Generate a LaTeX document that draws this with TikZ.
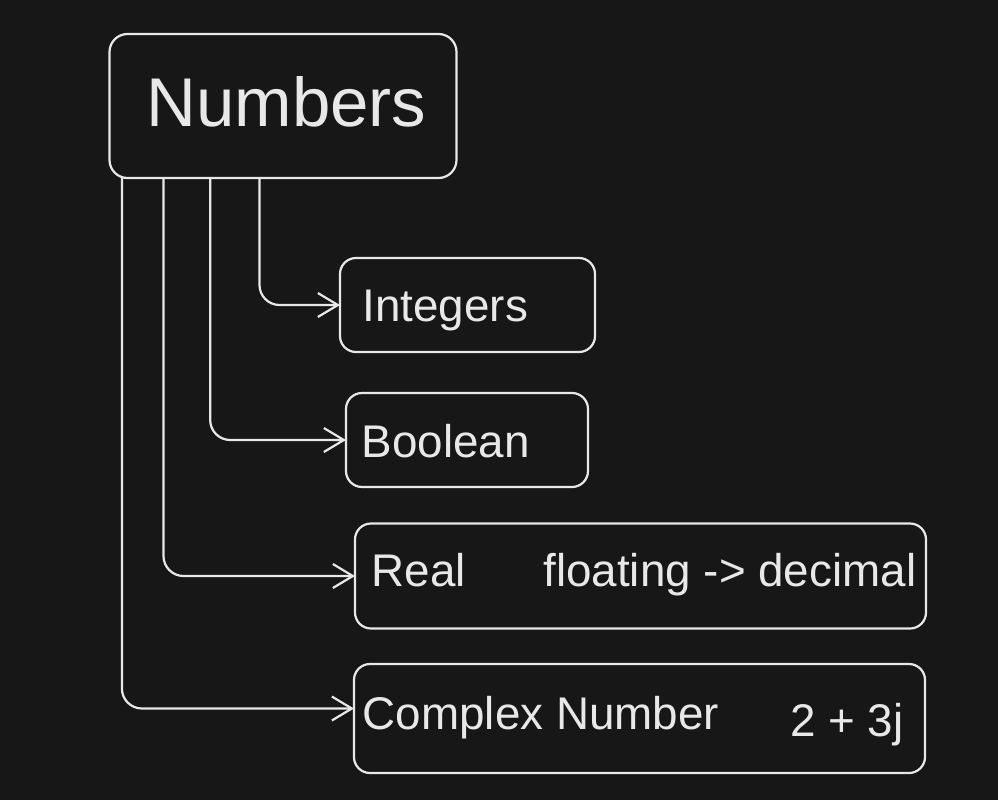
\documentclass[tikz,border=0pt]{standalone}
\usepackage{fontspec}
\setmainfont{Liberation Sans}
\usetikzlibrary{arrows.meta}
\definecolor{bg}{RGB}{23,23,23}
\definecolor{ink}{RGB}{232,232,232}
\begin{document}
\begin{tikzpicture}[x=1pt, y=-1pt,
  box/.style={draw=ink, fill=bg, line width=2.2pt, rounded corners=16pt,
    inner sep=0pt, outer sep=0pt, rectangle},
  label/.style={anchor=base west, inner sep=0pt, outer sep=0pt, text=ink,
    font=\fontsize{45.8}{54}\selectfont},
  conn/.style={draw=ink, line width=2.2pt, line cap=round, line join=round,
    rounded corners=20pt,
    -{Straight Barb[length=20pt, width=24pt, line width=2.2pt]}}
]
  % canvas
  \fill[bg] (0,0) rectangle (998,800);
  \useasboundingbox (0,0) rectangle (998,800);

  % boxes
  \node[box, rounded corners=18pt, minimum width=347pt, minimum height=144pt] (num) at (283,106) {};
  \node[box, minimum width=255pt, minimum height=94pt] (int) at (467.5,305) {};
  \node[box, minimum width=242pt, minimum height=94pt] (boo) at (467,440) {};
  \node[box, minimum width=571pt, minimum height=105pt] (rea) at (640.5,576) {};
  \node[box, minimum width=571pt, minimum height=109pt] (cpx) at (639.5,718.5) {};

  % labels
  \node[label, font=\fontsize{69}{80}\selectfont] (tnum) at (146.5,126) {Numbers};
  \node[label] (tint) at (362.5,321.7) {Integers};
  \node[label] (tboo) at (361.7,457.7) {Boolean};
  \node[label] (trea) at (371.5,586) {Real};
  \node[label] (tflo) at (543.4,586) {floating -> decimal};
  \node[label] (tcpx) at (362.8,729.3) {Complex Number};
  \node[label] (tval) at (790.3,736.7) {2 + 3j};

  % connectors from the top box to each category
  \draw[conn] ([xshift=150pt]num.south west) |- (int.west);
  \draw[conn] ([xshift=100.7pt]num.south west) |- (boo.west);
  \draw[conn] ([xshift=54pt]num.south west) |- (rea.west);
  \draw[conn] ([xshift=12.4pt]num.south west) |- ([yshift=10pt]cpx.west);
\end{tikzpicture}
\end{document}
